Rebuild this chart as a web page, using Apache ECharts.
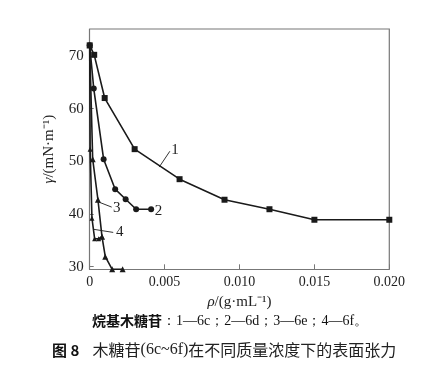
<!DOCTYPE html>
<html>
<head>
<meta charset="utf-8">
<script src="https://cdn.jsdelivr.net/npm/echarts@6/dist/echarts.min.js"></script>
<style>
    html, body { margin: 0; padding: 0; background: #fff; }
    #main { width: 434px; height: 376px; }
</style>
</head>
<body>
<div id="main"></div>
<script>
// 表面张力数据 [ρ (g/mL), γ (mN/m)]
const s1 = [[0, 72], [0.0003, 70.2], [0.001, 62], [0.003, 52.3], [0.006, 46.6], [0.009, 42.7], [0.012, 40.9], [0.015, 38.9], [0.020, 38.9]];
const s2 = [[0, 72], [0.00027, 63.8], [0.00093, 50.4], [0.0017, 44.7], [0.0024, 42.8], [0.0031, 40.9], [0.0041, 40.9]];
const s3 = [[0, 72], [0.0002, 50.4], [0.00055, 42.7], [0.00082, 35.7], [0.00104, 31.9], [0.0015, 29.5], [0.0022, 29.5]];
const s4 = [[0, 72], [0.00003, 52.3], [0.00015, 39.2], [0.00033, 35.3], [0.0006, 35.3], [0.00082, 35.7]];

const xTicks = [0, 0.005, 0.010, 0.015, 0.020];
const yTicks = [30, 40, 50, 60, 70];

// 曲线编号标注: 引线起点, 引线终点, 文字位置
const notes = [
    { text: '1', from: [0.00464, 48.9], to: [0.00535, 51.9], at: [0.0057, 52.2] },
    { text: '2', from: null, to: null, at: [0.0046, 40.5] },
    { text: '3', from: [0.00057, 42.3], to: [0.00147, 41.3], at: [0.0018, 41.2] },
    { text: '4', from: [0.00024, 37.1], to: [0.00157, 36.5], at: [0.002, 36.5] }
];

const serif = 'Liberation Serif';
const cjk = 'Noto Sans CJK SC';
const ink = '#1a1a1a';
const axisGray = '#777';

const chart = echarts.init(document.getElementById('main'));

function lineSeries(data, symbol, size) {
    return {
        type: 'line',
        data: data,
        symbol: symbol,
        symbolSize: size,
        showAllSymbol: true,
        lineStyle: { color: ink, width: 1.6 },
        itemStyle: { color: ink },
        silent: true,
        animation: false,
        z: 3
    };
}

const nameStyle = {
    fontFamily: serif, fontSize: 15, color: '#222',
    rich: { i: { fontFamily: serif, fontSize: 15, fontStyle: 'italic', color: '#222' } }
};

const option = {
    animation: false,
    grid: { left: 89.7, right: 44.7, top: 29, bottom: 106.7 },
    xAxis: {
        type: 'value',
        min: 0,
        max: 0.02,
        interval: 0.005,
        name: '{i|ρ}/(g·mL⁻¹)',
        nameLocation: 'middle',
        nameGap: 24,
        nameTextStyle: nameStyle,
        axisLine: { show: true, lineStyle: { color: axisGray, width: 1.2 } },
        axisTick: { inside: true, length: 5, lineStyle: { color: axisGray } },
        axisLabel: {
            fontFamily: serif, fontSize: 14, color: '#222', margin: 6,
            formatter: v => v === 0 ? '0' : v.toFixed(3)
        },
        splitLine: { show: false }
    },
    yAxis: {
        type: 'value',
        min: 29.5,
        max: 75.1,
        name: '{i|γ}/(mN·m⁻¹)',
        nameLocation: 'middle',
        nameGap: 33,
        nameTextStyle: nameStyle,
        axisLine: { show: true, lineStyle: { color: axisGray, width: 1.2 } },
        axisTick: { inside: true, length: 4, customValues: yTicks, lineStyle: { color: axisGray } },
        axisLabel: { fontFamily: serif, fontSize: 15, color: '#222', margin: 6, customValues: yTicks },
        splitLine: { show: false }
    },
    series: [
        lineSeries(s1, 'rect', 6),
        lineSeries(s2, 'circle', 6),
        lineSeries(s3, 'triangle', 6),
        lineSeries(s4, 'triangle', 5)
    ]
};

chart.setOption(option);

// 右边框和上边框
function frame() {
    const r = chart.getModel().getComponent('grid').coordinateSystem.getRect();
    return {
        type: 'polyline',
        shape: { points: [[r.x, r.y], [r.x + r.width, r.y], [r.x + r.width, r.y + r.height]] },
        style: { stroke: axisGray, lineWidth: 1.2, fill: null },
        silent: true
    };
}

const elems = [frame()];
notes.forEach(n => {
    if (n.from) {
        const a = chart.convertToPixel({ gridIndex: 0 }, n.from);
        const b = chart.convertToPixel({ gridIndex: 0 }, n.to);
        elems.push({
            type: 'line',
            shape: { x1: a[0], y1: a[1], x2: b[0], y2: b[1] },
            style: { stroke: '#333', lineWidth: 1 },
            silent: true
        });
    }
    const p = chart.convertToPixel({ gridIndex: 0 }, n.at);
    elems.push({
        type: 'text',
        x: p[0], y: p[1],
        style: { text: n.text, font: '15px "Liberation Serif"', fill: '#222', align: 'center', verticalAlign: 'middle' },
        silent: true
    });
});

// 图注
elems.push({
    type: 'text',
    left: 92,
    top: 314,
    style: {
        rich: {
            b: { fontFamily: cjk, fontWeight: 'bold', fontSize: 14, fill: '#111' },
            n: { fontFamily: serif, fontSize: 14, fill: '#111' }
        },
        text: '{b|烷基木糖苷}{n|：1—6c；2—6d；3—6e；4—6f。}'
    },
    silent: true
});
elems.push({
    type: 'text',
    left: 52,
    top: 342,
    style: {
        rich: {
            b: { fontFamily: cjk, fontWeight: 'bold', fontSize: 15, fill: '#111' },
            t: { fontFamily: cjk, fontSize: 16, fill: '#222' },
            n: { fontFamily: serif, fontSize: 16, fill: '#222' }
        },
        text: '{b|图 8}    {t|木糖苷}{n|(6c~6f)}{t|在不同质量浓度下的表面张力}'
    },
    silent: true
});

chart.setOption({ graphic: elems });
</script>
</body>
</html>
